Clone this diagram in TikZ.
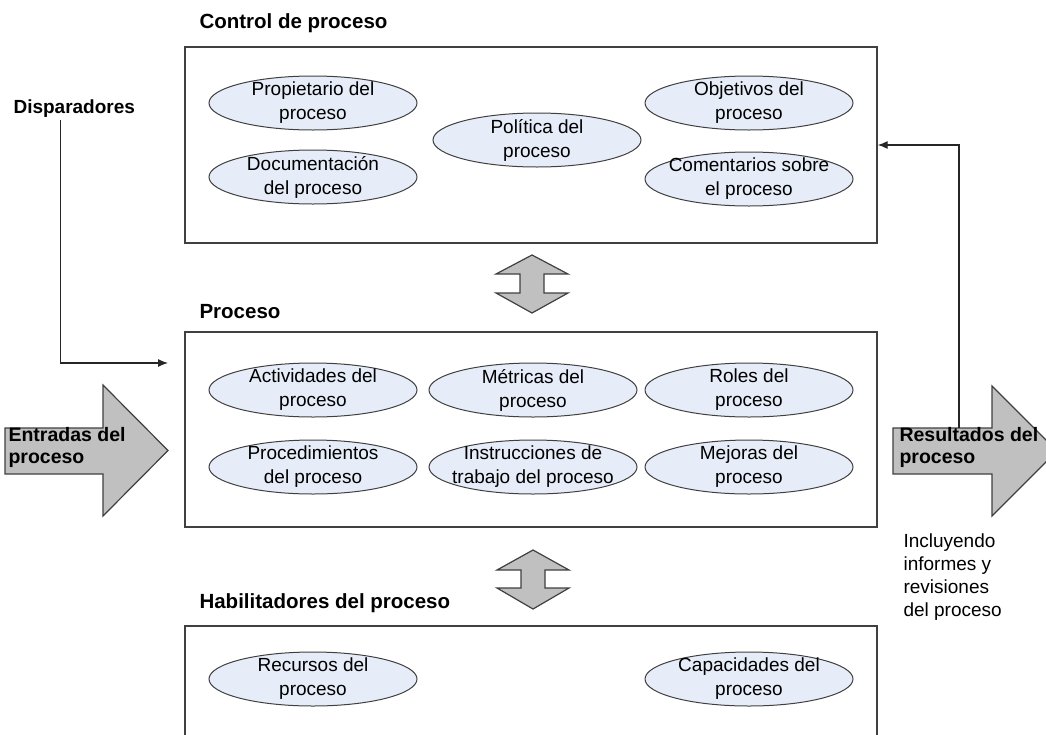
\documentclass[tikz,border=0pt]{standalone}
\usepackage{fontspec}
\setmainfont{Liberation Sans}
\usetikzlibrary{shapes}
\usetikzlibrary{arrows,arrows.meta}
\definecolor{azulclaro}{HTML}{E6ECF8}
\definecolor{gris}{HTML}{C0C0C0}
\definecolor{borde}{HTML}{404040}
\begin{document}
\begin{tikzpicture}[x=1pt,y=-1pt]
\tikzstyle{caja}=[rectangle,draw=borde,line width=1.3pt,minimum width=692pt]
\tikzstyle{elipse}=[ellipse,draw=borde,line width=1pt,fill=azulclaro,minimum width=208pt,minimum height=54pt,inner sep=-8pt,align=center,font=\fontsize{19}{24}\selectfont]
\tikzstyle{titulo}=[anchor=base west,font=\bfseries\fontsize{20.5}{24}\selectfont]
\tikzstyle{bloque}=[draw=borde,line width=1.2pt,fill=gris,line join=miter]
\tikzstyle{texto}=[anchor=west,align=left,font=\fontsize{19}{22}\selectfont]
\tikzstyle{flecha}=[->,>={Latex[length=10pt,width=8pt]},draw=black!85,line width=1.2pt]
\useasboundingbox (0,0) rectangle (1046,734);
%cajas
\node[caja,minimum height=196pt] (control) at (531,145) {};
\node[caja,minimum height=195pt] (proceso) at (531,429.5) {};
\node[caja,minimum height=130pt] (habil) at (531,691) {};
\node[titulo] (tcontrol) at (196,28) {Control de proceso};
\node[titulo] (tproceso) at (196,318) {Proceso};
\node[titulo] (thabil) at (196,608) {Habilitadores del proceso};
%control de proceso
\node[elipse] (prop) at (313,103) {Propietario del\\proceso};
\node[elipse] (doc) at (313,177) {Documentación\\del proceso};
\node[elipse] (pol) at (537,140) {Política del\\proceso};
\node[elipse] (obj) at (749,103) {Objetivos del\\proceso};
\node[elipse] (com) at (749,179) {Comentarios sobre\\el proceso};
%proceso
\node[elipse] (act) at (313,390) {Actividades del\\proceso};
\node[elipse] (met) at (533,390) {Métricas del\\proceso};
\node[elipse] (rol) at (749,390) {Roles del\\proceso};
\node[elipse] (proc) at (313,467) {Procedimientos\\del proceso};
\node[elipse] (inst) at (533,467) {Instrucciones de\\trabajo del proceso};
\node[elipse] (mej) at (749,467) {Mejoras del\\proceso};
%habilitadores
\node[elipse] (rec) at (313,679) {Recursos del\\proceso};
\node[elipse] (cap) at (749,679) {Capacidades del\\proceso};
%flechas dobles
\draw[bloque] (532,255) -- ++(36,19) -- ++(-24,0) -- ++(0,19) -- ++(24,0) -- ++(-36,20) -- ++(-36,-20) -- ++(24,0) -- ++(0,-19) -- ++(-24,0) -- cycle;
\draw[bloque] (533,550) -- ++(36,20) -- ++(-24,0) -- ++(0,18) -- ++(24,0) -- ++(-36,21) -- ++(-36,-21) -- ++(24,0) -- ++(0,-18) -- ++(-24,0) -- cycle;
%entradas y resultados
\draw[bloque] (5,428) -- (103,428) -- (103,385) -- (168,450.5) -- (103,516) -- (103,474) -- (5,474) -- cycle;
\draw[bloque] (893,428) -- (992,428) -- (992,386) -- (1057,451) -- (992,516) -- (992,474) -- (893,474) -- cycle;
\node[texto,font=\bfseries\fontsize{19.5}{22}\selectfont] (tentradas) at (5,447) {Entradas del\\proceso};
\node[texto,font=\bfseries\fontsize{19.5}{22}\selectfont] (tresultados) at (896,447) {Resultados del\\proceso};
\node[texto,font=\fontsize{19}{23}\selectfont] (nota) at (900,577) {Incluyendo\\informes y\\revisiones\\del proceso};
\node[titulo,font=\bfseries\fontsize{19}{23}\selectfont] (disp) at (10,113) {Disparadores};
%conectores
\coordinate (entrada) at (168,363);
\coordinate (retorno) at (959,428);
\draw[flecha] ([xshift=-13.5pt]disp.south) |- (entrada);
\draw[flecha] (retorno) |- (control.east);
\end{tikzpicture}
\end{document}
